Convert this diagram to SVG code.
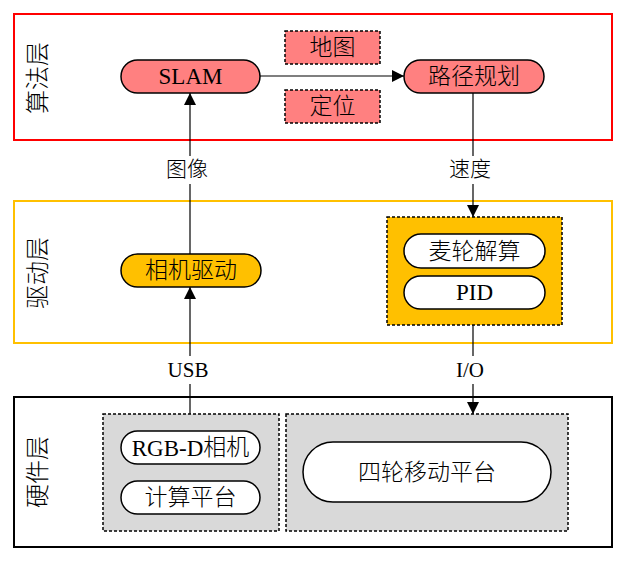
<svg xmlns="http://www.w3.org/2000/svg" width="624" height="562" viewBox="0 0 624 562">
<style>
text{font-family:"Liberation Serif","Noto Sans CJK SC",serif;font-weight:300;fill:#000;text-anchor:middle;dominant-baseline:central}
text.lat,tspan.lat{font-weight:400}
.n{font-size:23px}
.lab{font-size:21px}
.layer{font-size:24px}
.pill{stroke:#000;stroke-width:1.5}
.dash{stroke:#000;stroke-width:1.5;stroke-dasharray:3,2}
.conn{stroke:#000;stroke-width:1.2;fill:none}
</style>
<defs>
<marker id="ah" markerUnits="userSpaceOnUse" markerWidth="12" markerHeight="14" viewBox="0 0 12 14" refX="12" refY="7" orient="auto">
<path d="M0,1 L12,7 L0,13 Z" fill="#000"/>
</marker>
</defs>
<rect fill="#fff" width="624" height="562"/>
<g id="layer-algo">
<rect x="14" y="14" width="598" height="126" fill="none" stroke="#FF0000" stroke-width="2"/>
<text class="layer" transform="translate(38,78) rotate(-90)">算法层</text>
</g>
<g id="layer-drive">
<rect x="14" y="201" width="598" height="142" fill="none" stroke="#FFC000" stroke-width="2"/>
<text class="layer" transform="translate(38,273) rotate(-90)">驱动层</text>
</g>
<g id="layer-hw">
<rect x="14" y="397" width="598" height="150" fill="none" stroke="#000" stroke-width="2"/>
<text class="layer" transform="translate(38,472) rotate(-90)">硬件层</text>
</g>
<g id="slam"><rect class="pill" x="121" y="60" width="139" height="33" rx="16.5" fill="#FF8080"/><text class="n lat" x="190.5" y="76.5">SLAM</text></g>
<g id="path"><rect class="pill" x="404" y="60" width="140" height="33" rx="16.5" fill="#FF8080"/><text class="n" x="474" y="76.5">路径规划</text></g>
<g id="map"><rect class="dash" x="285" y="31" width="95" height="33" fill="#FF8080"/><text class="n" x="332.5" y="47.5">地图</text></g>
<g id="loc"><rect class="dash" x="285" y="90" width="95" height="33" fill="#FF8080"/><text class="n" x="332.5" y="106.5">定位</text></g>
<g id="camdrv"><rect class="pill" x="121" y="254" width="140" height="33" rx="16.5" fill="#FFC000"/><text class="n" x="191" y="270.5">相机驱动</text></g>
<g id="ctrl"><rect class="dash" x="387" y="217" width="175" height="108" fill="#FFC000"/></g>
<g id="mecanum"><rect class="pill" x="404" y="234" width="141" height="34" rx="17" fill="#fff"/><text class="n" x="474.5" y="251">麦轮解算</text></g>
<g id="pid"><rect class="pill" x="404" y="276" width="141" height="33" rx="16.5" fill="#fff"/><text class="n lat" x="474.5" y="292.5">PID</text></g>
<g id="hwleft"><rect class="dash" x="103" y="414" width="176" height="117" fill="#D9D9D9"/></g>
<g id="hwright"><rect class="dash" x="286" y="414" width="282" height="117" fill="#D9D9D9"/></g>
<g id="rgbd"><rect class="pill" x="121" y="431" width="139" height="33" rx="16.5" fill="#fff"/><text class="n" x="190.5" y="447.5"><tspan class="lat">RGB-D</tspan>相机</text></g>
<g id="compute"><rect class="pill" x="121" y="481" width="139" height="33" rx="16.5" fill="#fff"/><text class="n" x="190.5" y="497.5">计算平台</text></g>
<g id="base"><rect class="pill" x="303" y="442" width="248" height="60" rx="30" fill="#fff"/><text class="n" x="427" y="472">四轮移动平台</text></g>
<g id="connectors">
<line class="conn" x1="260" y1="76" x2="404" y2="76" marker-end="url(#ah)"/>
<line class="conn" x1="190" y1="254" x2="190" y2="184"/>
<line class="conn" x1="190" y1="156" x2="190" y2="93" marker-end="url(#ah)"/>
<line class="conn" x1="473" y1="93" x2="473" y2="156"/>
<line class="conn" x1="473" y1="184" x2="473" y2="217" marker-end="url(#ah)"/>
<line class="conn" x1="190" y1="414" x2="190" y2="384"/>
<line class="conn" x1="190" y1="356" x2="190" y2="287" marker-end="url(#ah)"/>
<line class="conn" x1="473" y1="325" x2="473" y2="356"/>
<line class="conn" x1="473" y1="384" x2="473" y2="414" marker-end="url(#ah)"/>
<text class="lab" x="187" y="169">图像</text>
<text class="lab" x="470" y="169">速度</text>
<text class="lab lat" x="188" y="370">USB</text>
<text class="lab lat" x="470" y="370">I/O</text>
</g>
</svg>
